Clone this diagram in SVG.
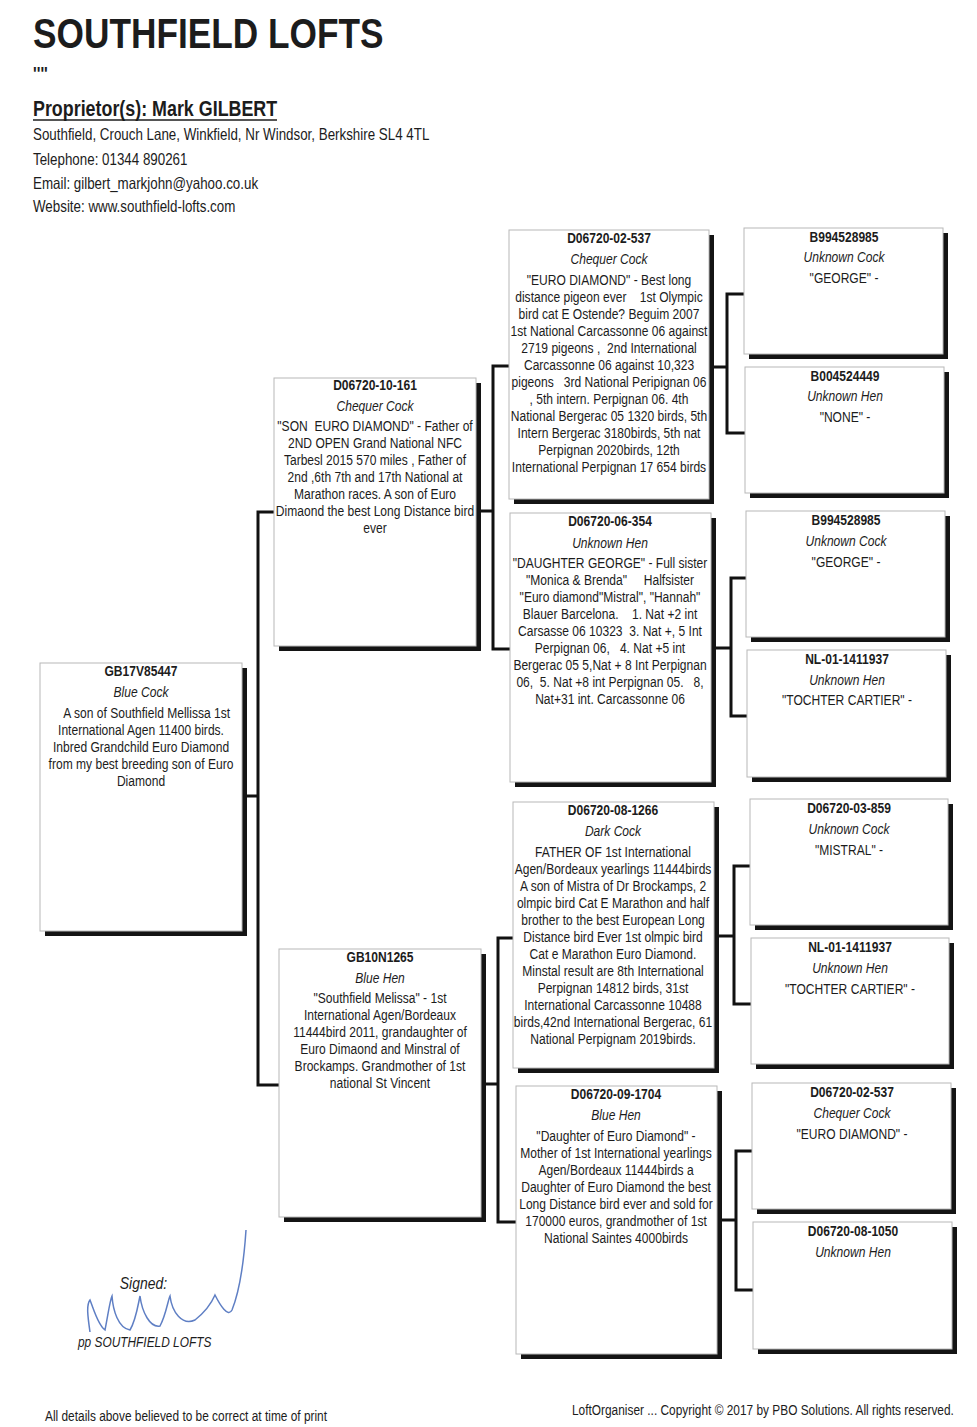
<svg xmlns="http://www.w3.org/2000/svg" width="977" height="1427" viewBox="0 0 977 1427">
<style>
text{font-family:"Liberation Sans",Arial,sans-serif;fill:#1c1c1c;white-space:pre}
.n text{text-anchor:middle;font-size:14.7px}
.id{font-weight:bold}
.it{font-style:italic}
.sh{fill:#141414}
.bx{fill:#fff;stroke:#b8b8b8;stroke-width:1}
.conn path{stroke:#111;stroke-width:3;fill:none;stroke-linecap:square}
</style>
<rect width="977" height="1427" fill="#fff"/>
<g id="header">
<g transform="translate(33,0) scale(0.82,1)">
<text x="0" y="48" font-size="43" font-weight="bold">SOUTHFIELD LOFTS</text>
<text x="0" y="80" font-size="19" font-weight="bold">''''</text>
<text x="0" y="116" font-size="21.8" font-weight="bold">Proprietor(s): Mark GILBERT</text>
<text x="0" y="140" font-size="16.3">Southfield, Crouch Lane, Winkfield, Nr Windsor, Berkshire SL4 4TL</text>
<text x="0" y="165" font-size="16.3">Telephone: 01344 890261</text>
<text x="0" y="189" font-size="16.3">Email: gilbert_markjohn@yahoo.co.uk</text>
<text x="0" y="212" font-size="16.3">Website: www.southfield-lofts.com</text>
</g>
<line x1="33" y1="120" x2="277" y2="120" stroke="#1c1c1c" stroke-width="1.6"/>
</g>
<g class="conn" id="connectors">
<path d="M247 796H258M258 512V1085M258 512H274M258 1085H279"/>
<path d="M481 511H493M493 366V649M493 366H509M493 649H510"/>
<path d="M486 1084H498M498 938V1222M498 938H513M498 1222H516"/>
<path d="M714 367H727M727 294V433M727 294H744M727 433H745"/>
<path d="M716 648H731M731 578V716M731 578H746M731 716H747"/>
<path d="M719 936H734M734 866V1004M734 866H750M734 1004H751"/>
<path d="M722 1220H736M736 1151V1290M736 1151H752M736 1290H753"/>
</g>
<g class="n" id="n-gb17v85447" transform="translate(40,663)">
<rect class="sh" x="5" y="5" width="202" height="268"/><rect class="bx" width="202" height="268"/>
<g transform="translate(101,0) scale(0.82,1)">
<text x="0" y="13" class="id">GB17V85447</text>
<text x="0" y="34" class="it">Blue Cock</text>
<text x="7" y="55">A son of Southfield Mellissa 1st</text>
<text x="0" y="72">International Agen 11400 birds.</text>
<text x="0" y="89">Inbred Grandchild Euro Diamond</text>
<text x="0" y="106">from my best breeding son of Euro</text>
<text x="0" y="123">Diamond</text>
</g>
</g>
<g class="n" id="n-d06720-10-161" transform="translate(274,378)">
<rect class="sh" x="5" y="5" width="202" height="268"/><rect class="bx" width="202" height="268"/>
<g transform="translate(101,0) scale(0.82,1)">
<text x="0" y="12" class="id">D06720-10-161</text>
<text x="0" y="33" class="it">Chequer Cock</text>
<text x="0" y="53">"SON  EURO DIAMOND" - Father of</text>
<text x="0" y="70">2ND OPEN Grand National NFC</text>
<text x="0" y="87">Tarbesl 2015 570 miles , Father of</text>
<text x="0" y="104">2nd ,6th 7th and 17th National at</text>
<text x="0" y="121">Marathon races. A son of Euro</text>
<text x="0" y="138">Dimaond the best Long Distance bird</text>
<text x="0" y="155">ever</text>
</g>
</g>
<g class="n" id="n-gb10n1265" transform="translate(279,949)">
<rect class="sh" x="5" y="5" width="202" height="268"/><rect class="bx" width="202" height="268"/>
<g transform="translate(101,0) scale(0.82,1)">
<text x="0" y="13" class="id">GB10N1265</text>
<text x="0" y="34" class="it">Blue Hen</text>
<text x="0" y="54">"Southfield Melissa" - 1st</text>
<text x="0" y="71">International Agen/Bordeaux</text>
<text x="0" y="88">11444bird 2011, grandaughter of</text>
<text x="0" y="105">Euro Dimaond and Minstral of</text>
<text x="0" y="122">Brockamps. Grandmother of 1st</text>
<text x="0" y="139">national St Vincent</text>
</g>
</g>
<g class="n" id="n-d06720-02-537" transform="translate(509,230)">
<rect class="sh" x="5" y="5" width="200" height="269"/><rect class="bx" width="200" height="269"/>
<g transform="translate(100,0) scale(0.82,1)">
<text x="0" y="13" class="id">D06720-02-537</text>
<text x="0" y="34" class="it">Chequer Cock</text>
<text x="0" y="55">"EURO DIAMOND" - Best long</text>
<text x="0" y="72">distance pigeon ever    1st Olympic</text>
<text x="0" y="89">bird cat E Ostende? Beguim 2007</text>
<text x="0" y="106">1st National Carcassonne 06 against</text>
<text x="0" y="123">2719 pigeons ,  2nd International</text>
<text x="0" y="140">Carcassonne 06 against 10,323</text>
<text x="0" y="157">pigeons   3rd National Peripignan 06</text>
<text x="0" y="174">, 5th intern. Perpignan 06. 4th</text>
<text x="0" y="191">National Bergerac 05 1320 birds, 5th</text>
<text x="0" y="208">Intern Bergerac 3180birds, 5th nat</text>
<text x="0" y="225">Perpignan 2020birds, 12th</text>
<text x="0" y="242">International Perpignan 17 654 birds</text>
</g>
</g>
<g class="n" id="n-d06720-06-354" transform="translate(510,513)">
<rect class="sh" x="5" y="5" width="201" height="269"/><rect class="bx" width="201" height="269"/>
<g transform="translate(100,0) scale(0.82,1)">
<text x="0" y="13" class="id">D06720-06-354</text>
<text x="0" y="35" class="it">Unknown Hen</text>
<text x="0" y="55">"DAUGHTER GEORGE" - Full sister</text>
<text x="0" y="72">"Monica &amp; Brenda"     Halfsister</text>
<text x="0" y="89">"Euro diamond"Mistral", "Hannah"</text>
<text x="0" y="106">Blauer Barcelona.    1. Nat +2 int</text>
<text x="0" y="123">Carsasse 06 10323  3. Nat +, 5 Int</text>
<text x="0" y="140">Perpignan 06,   4. Nat +5 int</text>
<text x="0" y="157">Bergerac 05 5,Nat + 8 Int Perpignan</text>
<text x="0" y="174">06,  5. Nat +8 int Perpignan 05.   8,</text>
<text x="0" y="191">Nat+31 int. Carcassonne 06</text>
</g>
</g>
<g class="n" id="n-d06720-08-1266" transform="translate(513,802)">
<rect class="sh" x="5" y="5" width="201" height="266"/><rect class="bx" width="201" height="266"/>
<g transform="translate(100,0) scale(0.82,1)">
<text x="0" y="13" class="id">D06720-08-1266</text>
<text x="0" y="34" class="it">Dark Cock</text>
<text x="0" y="55">FATHER OF 1st International</text>
<text x="0" y="72">Agen/Bordeaux yearlings 11444birds</text>
<text x="0" y="89">A son of Mistra of Dr Brockamps, 2</text>
<text x="0" y="106">olmpic bird Cat E Marathon and half</text>
<text x="0" y="123">brother to the best European Long</text>
<text x="0" y="140">Distance bird Ever 1st olmpic bird</text>
<text x="0" y="157">Cat e Marathon Euro Diamond.</text>
<text x="0" y="174">Minstal result are 8th International</text>
<text x="0" y="191">Perpignan 14812 birds, 31st</text>
<text x="0" y="208">International Carcassonne 10488</text>
<text x="0" y="225">birds,42nd International Bergerac, 61</text>
<text x="0" y="242">National Perpignam 2019birds.</text>
</g>
</g>
<g class="n" id="n-d06720-09-1704" transform="translate(516,1086)">
<rect class="sh" x="5" y="5" width="201" height="268"/><rect class="bx" width="201" height="268"/>
<g transform="translate(100,0) scale(0.82,1)">
<text x="0" y="13" class="id">D06720-09-1704</text>
<text x="0" y="34" class="it">Blue Hen</text>
<text x="0" y="55">"Daughter of Euro Diamond" -</text>
<text x="0" y="72">Mother of 1st International yearlings</text>
<text x="0" y="89">Agen/Bordeaux 11444birds a</text>
<text x="0" y="106">Daughter of Euro Diamond the best</text>
<text x="0" y="123">Long Distance bird ever and sold for</text>
<text x="0" y="140">170000 euros, grandmother of 1st</text>
<text x="0" y="157">National Saintes 4000birds</text>
</g>
</g>
<g class="n" id="n-b994528985-a" transform="translate(744,228)">
<rect class="sh" x="5" y="5" width="199" height="126"/><rect class="bx" width="199" height="126"/>
<g transform="translate(100,0) scale(0.82,1)">
<text x="0" y="14" class="id">B994528985</text>
<text x="0" y="34" class="it">Unknown Cock</text>
<text x="0" y="55">"GEORGE" -</text>
</g>
</g>
<g class="n" id="n-b004524449" transform="translate(745,367)">
<rect class="sh" x="5" y="5" width="199" height="126"/><rect class="bx" width="199" height="126"/>
<g transform="translate(100,0) scale(0.82,1)">
<text x="0" y="14" class="id">B004524449</text>
<text x="0" y="34" class="it">Unknown Hen</text>
<text x="0" y="55">"NONE" -</text>
</g>
</g>
<g class="n" id="n-b994528985-b" transform="translate(746,511)">
<rect class="sh" x="5" y="5" width="199" height="126"/><rect class="bx" width="199" height="126"/>
<g transform="translate(100,0) scale(0.82,1)">
<text x="0" y="14" class="id">B994528985</text>
<text x="0" y="35" class="it">Unknown Cock</text>
<text x="0" y="56">"GEORGE" -</text>
</g>
</g>
<g class="n" id="n-nl-01-1411937-a" transform="translate(747,650)">
<rect class="sh" x="5" y="5" width="199" height="127"/><rect class="bx" width="199" height="127"/>
<g transform="translate(100,0) scale(0.82,1)">
<text x="0" y="14" class="id">NL-01-1411937</text>
<text x="0" y="35" class="it">Unknown Hen</text>
<text x="0" y="55">"TOCHTER CARTIER" -</text>
</g>
</g>
<g class="n" id="n-d06720-03-859" transform="translate(750,799)">
<rect class="sh" x="5" y="5" width="198" height="126"/><rect class="bx" width="198" height="126"/>
<g transform="translate(99,0) scale(0.82,1)">
<text x="0" y="14" class="id">D06720-03-859</text>
<text x="0" y="35" class="it">Unknown Cock</text>
<text x="0" y="56">"MISTRAL" -</text>
</g>
</g>
<g class="n" id="n-nl-01-1411937-b" transform="translate(751,938)">
<rect class="sh" x="5" y="5" width="198" height="126"/><rect class="bx" width="198" height="126"/>
<g transform="translate(99,0) scale(0.82,1)">
<text x="0" y="14" class="id">NL-01-1411937</text>
<text x="0" y="35" class="it">Unknown Hen</text>
<text x="0" y="56">"TOCHTER CARTIER" -</text>
</g>
</g>
<g class="n" id="n-d06720-02-537-b" transform="translate(752,1083)">
<rect class="sh" x="5" y="5" width="199" height="126"/><rect class="bx" width="199" height="126"/>
<g transform="translate(100,0) scale(0.82,1)">
<text x="0" y="14" class="id">D06720-02-537</text>
<text x="0" y="35" class="it">Chequer Cock</text>
<text x="0" y="56">"EURO DIAMOND" -</text>
</g>
</g>
<g class="n" id="n-d06720-08-1050" transform="translate(753,1222)">
<rect class="sh" x="5" y="5" width="199" height="127"/><rect class="bx" width="199" height="127"/>
<g transform="translate(100,0) scale(0.82,1)">
<text x="0" y="14" class="id">D06720-08-1050</text>
<text x="0" y="35" class="it">Unknown Hen</text>
</g>
</g>
<g id="signature">
<path d="M90 1332C88 1318 86 1305 90 1300C94 1310 98 1325 105 1330C108 1315 110 1300 112 1296C113 1310 118 1328 130 1330C136 1320 138 1305 140 1296C142 1312 150 1328 160 1326C166 1315 168 1300 170 1296C172 1312 182 1326 195 1320C205 1312 212 1302 215 1295C220 1305 228 1318 232 1310C240 1290 244 1260 246 1230" fill="none" stroke="#5f7fc4" stroke-width="1.5"/>
<g transform="translate(78,0) scale(0.82,1)">
<text x="51" y="1289" font-size="17" font-style="italic">Signed:</text>
<text x="0" y="1347" font-size="14.5" font-style="italic">pp SOUTHFIELD LOFTS</text>
</g>
</g>
<g id="footer">
<g transform="translate(45,0) scale(0.82,1)">
<text x="0" y="1421" font-size="14.5">All details above believed to be correct at time of print</text>
</g>
<g transform="translate(572,0) scale(0.82,1)">
<text x="0" y="1415" font-size="14.5">LoftOrganiser ... Copyright © 2017 by PBO Solutions. All rights reserved.</text>
</g>
</g>
</svg>
